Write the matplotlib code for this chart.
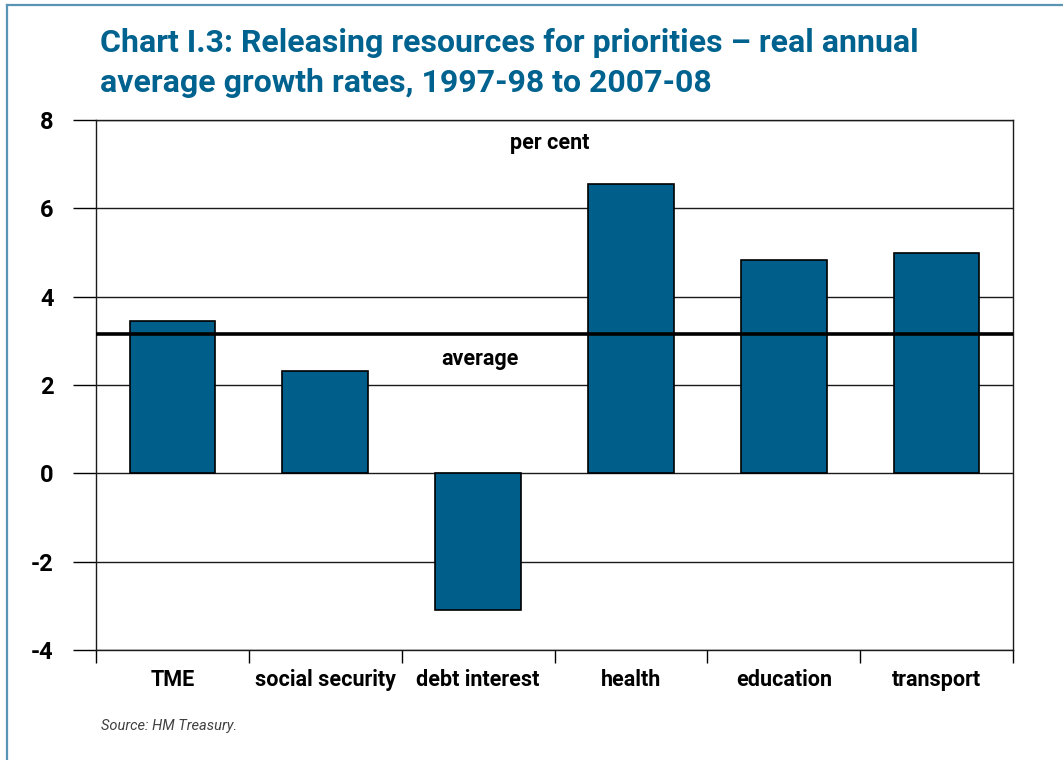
import numpy as np
import matplotlib
matplotlib.use("Agg")
import matplotlib.pyplot as plt
from matplotlib.lines import Line2D

# data (per cent, real annual average growth)
categories = ['TME', 'social security', 'debt interest', 'health', 'education', 'transport']
growth = [3.44, 2.31, -3.10, 6.54, 4.82, 5.00]
average = 3.15
yticks = [-4, -2, 0, 2, 4, 6, 8]

bar_col = '#005e8a'
title_col = '#00628f'
frame_col = '#5b93b5'

plt.rcParams['font.family'] = ['Roboto', 'DejaVu Sans']

fig = plt.figure(figsize=(10.63, 7.6), dpi=100)
ax = fig.add_axes([96/1063, 1-650/760, (1013-96)/1063, (650-120)/760])

x = np.arange(len(categories))
ax.bar(x, growth, width=0.56, color=bar_col, edgecolor='black', linewidth=1.2, zorder=3)
ax.axhline(average, color='black', lw=2.6, zorder=4)

ax.set_xlim(-0.5, len(categories) - 0.5)
ax.set_ylim(-4, 8)
ax.set_yticks(yticks)
ax.set_yticklabels([str(v) for v in yticks], fontsize=17, fontweight='bold')
ax.yaxis.grid(True, color='#1a1a1a', lw=1)
ax.set_axisbelow(True)

# category boundaries as major ticks, names as minor tick labels
ax.set_xticks(np.arange(-0.5, len(categories), 1.0))
ax.set_xticklabels([])
ax.set_xticks(x, minor=True)
ax.set_xticklabels(categories, minor=True, fontsize=15.5, fontweight='bold')
ax.tick_params(axis='x', which='major', length=9, width=1, direction='out')
ax.tick_params(axis='x', which='minor', length=0, pad=14)
ax.tick_params(axis='y', length=16.5, width=1, direction='out', pad=14)

for s in ax.spines.values():
    s.set_linewidth(1)
    s.set_color('#1a1a1a')

ax.text(2.47, 7.47, 'per cent', ha='center', va='center', fontsize=15.5, fontweight='bold')
ax.text(2.01, 2.58, 'average', ha='center', va='center', fontsize=15.5, fontweight='bold')

fig.text(100/1063, 1-52/760, 'Chart I.3: Releasing resources for priorities \u2013 real annual',
         color=title_col, fontsize=23, fontweight='bold', va='baseline')
fig.text(100/1063, 1-92/760, 'average growth rates, 1997-98 to 2007-08',
         color=title_col, fontsize=23, fontweight='bold', va='baseline')
fig.text(101/1063, 1-726/760, 'Source: HM Treasury.', fontsize=10.5, style='italic',
         color='#404040', va='center')

# outer frame (left and top edges)
fig.add_artist(Line2D([7/1063, 7/1063], [0, 1-5/760], color=frame_col, lw=1.6))
fig.add_artist(Line2D([7/1063, 1], [1-5/760, 1-5/760], color=frame_col, lw=1.6))

fig.savefig('out.png', dpi=100)
